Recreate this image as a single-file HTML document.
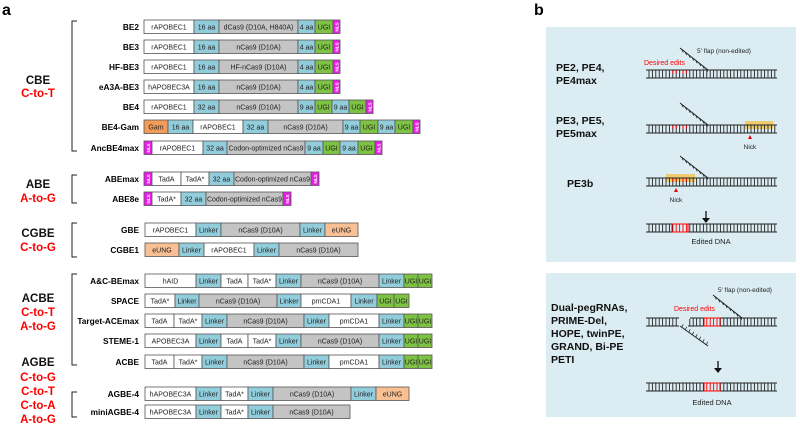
<!DOCTYPE html>
<html><head><meta charset="utf-8"><style>
body{margin:0;background:#fff;width:800px;height:432px;overflow:hidden}
svg{display:block;font-family:"Liberation Sans",Arial,sans-serif}
</style></head><body>
<svg id="s" width="800" height="432" viewBox="0 0 800 432" xmlns="http://www.w3.org/2000/svg">
<text x="2" y="15" font-size="16" font-weight="bold">a</text>
<text x="534" y="15" font-size="16" font-weight="bold">b</text>
<rect x="546" y="27" width="250" height="235" fill="#dbedf3"/>
<rect x="546" y="273" width="250" height="144" fill="#dbedf3"/>
<g id="g"></g>
</svg>
<script>
const g=document.getElementById('g');let h='';
const C={w:'#ffffff',b:'#92cddc',g:'#c4c4c4',u:'#7dc242',n:'#ec1cec',o:'#f39c5a',e:'#f8c094'};
function row(name,y,x0,segs){
 h+=`<text x="139" y="${y+10}" font-size="8.3" font-weight="bold" text-anchor="end">${name}</text>`;
 let x=x0;
 for(const [e,t,l] of segs){
  h+=`<rect x="${x}" y="${y}" width="${e-x}" height="13.5" fill="${C[t]}" stroke="#555" stroke-width="0.8"/>`;
  if(t==='n'){h+=`<text transform="translate(${(x+e)/2+2},${y+7}) rotate(-90)" font-size="4.5" fill="#fff" text-anchor="middle" font-weight="bold">NLS</text>`;}
  else h+=`<text x="${(x+e)/2}" y="${y+9.5}" font-size="7" text-anchor="middle" fill="#222">${l}</text>`;
  x=e;
 }
}
row('BE2',20,144,[[194,'w','rAPOBEC1'],[219,'b','16 aa'],[298,'g','dCas9 (D10A, H840A)'],[315,'b','4 aa'],[333,'u','UGI'],[340,'n']]);
row('BE3',40,144,[[194,'w','rAPOBEC1'],[219,'b','16 aa'],[298,'g','nCas9 (D10A)'],[315,'b','4 aa'],[333,'u','UGI'],[340,'n']]);
row('HF-BE3',60,144,[[194,'w','rAPOBEC1'],[219,'b','16 aa'],[298,'g','HF-nCas9 (D10A)'],[315,'b','4 aa'],[333,'u','UGI'],[340,'n']]);
row('eA3A-BE3',80,144,[[194,'w','hAPOBEC3A'],[219,'b','16 aa'],[298,'g','nCas9 (D10A)'],[315,'b','4 aa'],[333,'u','UGI'],[340,'n']]);
row('BE4',100,144,[[194,'w','rAPOBEC1'],[219,'b','32 aa'],[298,'g','nCas9 (D10A)'],[315,'b','9 aa'],[332,'u','UGI'],[349,'b','9 aa'],[366,'u','UGI'],[373,'n']]);
row('BE4-Gam',120,144,[[168,'o','Gam'],[193,'b','16 aa'],[243,'w','rAPOBEC1'],[268,'b','32 aa'],[343,'g','nCas9 (D10A)'],[360,'b','9 aa'],[378,'u','UGI'],[395,'b','9 aa'],[413,'u','UGI'],[420,'n']]);
row('AncBE4max',141,144,[[152,'n'],[203,'w','rAPOBEC1'],[227,'b','32 aa'],[305,'g','Codon-optimized nCas9'],[323,'b','9 aa'],[340,'u','UGI'],[358,'b','9 aa'],[375,'u','UGI'],[382,'n']]);
row('ABEmax',172,144,[[152,'n'],[181,'w','TadA'],[209,'w','TadA*'],[234,'b','32 aa'],[311,'g','Codon-optimized nCas9'],[319,'n']]);
row('ABE8e',192,144,[[152,'n'],[181,'w','TadA*'],[206,'b','32 aa'],[283,'g','Codon-optimized nCas9'],[291,'n']]);
row('GBE',223,145,[[196,'w','rAPOBEC1'],[221,'b','Linker'],[300,'g','nCas9 (D10A)'],[325,'b','Linker'],[358,'e','eUNG']]);
row('CGBE1',243,145,[[179,'e','eUNG'],[204,'b','Linker'],[254,'w','rAPOBEC1'],[279,'b','Linker'],[358,'g','nCas9 (D10A)']]);
row('A&amp;C-BEmax',274,145,[[196,'w','hAID'],[221,'b','Linker'],[248,'w','TadA'],[276,'w','TadA*'],[301,'b','Linker'],[379,'g','nCas9 (D10A)'],[404,'b','Linker'],[418,'u','UGI'],[432,'u','UGI']]);
row('SPACE',294,145,[[175,'w','TadA*'],[199,'b','Linker'],[277,'g','nCas9 (D10A)'],[301,'b','Linker'],[351,'w','pmCDA1'],[377,'b','Linker'],[394,'u','UGI'],[409,'u','UGI']]);
row('Target-ACEmax',314,145,[[174,'w','TadA'],[202,'w','TadA*'],[227,'b','Linker'],[304,'g','nCas9 (D10A)'],[329,'b','Linker'],[379,'w','pmCDA1'],[404,'b','Linker'],[418,'u','UGI'],[432,'u','UGI']]);
row('STEME-1',334,145,[[196,'w','APOBEC3A'],[221,'b','Linker'],[248,'w','TadA'],[276,'w','TadA*'],[301,'b','Linker'],[379,'g','nCas9 (D10A)'],[404,'b','Linker'],[418,'u','UGI'],[432,'u','UGI']]);
row('ACBE',355,145,[[174,'w','TadA'],[202,'w','TadA*'],[227,'b','Linker'],[304,'g','nCas9 (D10A)'],[329,'b','Linker'],[379,'w','pmCDA1'],[404,'b','Linker'],[418,'u','UGI'],[432,'u','UGI']]);
row('AGBE-4',387,145,[[196,'w','hAPOBEC3A'],[221,'b','Linker'],[248,'w','TadA*'],[273,'b','Linker'],[351,'g','nCas9 (D10A)'],[376,'b','Linker'],[409,'e','eUNG']]);
row('miniAGBE-4',405,145,[[196,'w','hAPOBEC3A'],[221,'b','Linker'],[248,'w','TadA*'],[273,'b','Linker'],[350,'g','nCas9 (D10A)']]);
// brackets
for(const [a,b] of [[21,151],[175,203],[223,257],[274,365],[392,417]]){
 h+=`<path d="M77 ${a}H72V${b}H77" fill="none" stroke="#222" stroke-width="1"/>`;
}
function lab(t,y,red){h+=`<text x="38" y="${y}" font-size="11.5" font-weight="bold" text-anchor="middle" fill="${red?'#ff0000':'#111'}">${t}</text>`;}
lab('CBE',84);lab('C-to-T',97,1);lab('ABE',188);lab('A-to-G',202,1);lab('CGBE',237);lab('C-to-G',251,1);
lab('ACBE',302);lab('C-to-T',316,1);lab('A-to-G',330,1);
lab('AGBE',366);lab('C-to-G',381,1);lab('C-to-T',395,1);lab('C-to-A',409,1);lab('A-to-G',423,1);
// right panel
function bl(t,x,y){h+=`<text x="${x}" y="${y}" font-size="10.5" font-weight="bold" fill="#111">${t}</text>`;}
bl('PE2, PE4,',556,71);bl('PE4max',556,84);bl('PE3, PE5,',556,124);bl('PE5max',556,137);bl('PE3b',567,187);
bl('Dual-pegRNAs,',551,311);bl('PRIME-Del,',551,324);bl('HOPE, twinPE,',551,337);bl('GRAND, Bi-PE',551,350);bl('PETI',551,363);
function dna(y,redA,redB,full,flapX){
 // rungs
 for(let x=649;x<776;x+=3.4){
  let red=x>=redA&&x<=redB;
  h+=`<line x1="${x}" y1="${y}" x2="${x}" y2="${y+8}" stroke="${red&&full?'#f00':'#222'}" stroke-width="0.9"/>`;
  if(red&&!full)h+=`<line x1="${x}" y1="${y}" x2="${x}" y2="${y+3.5}" stroke="#f00" stroke-width="1"/>`;
 }
 h+=`<line x1="646" y1="${y}" x2="777" y2="${y}" stroke="#222" stroke-width="1.1"/>`;
 h+=`<line x1="646" y1="${y+8}" x2="777" y2="${y+8}" stroke="#222" stroke-width="1.1"/>`;
 if(full&&redA)h+=`<rect x="${redA-1}" y="${y}" width="${redB-redA+2}" height="8" fill="none" stroke="#f00" stroke-width="1"/>`;
}
function flap(x1,y1,x2,y2,down){
 h+=`<line x1="${x1}" y1="${y1}" x2="${x2}" y2="${y2}" stroke="#222" stroke-width="1"/>`;
 const n=8;for(let i=0;i<n;i++){const t=(i+0.5)/n;const x=x1+(x2-x1)*t,y=y1+(y2-y1)*t;
 h+=`<line x1="${x}" y1="${y}" x2="${x+1.5}" y2="${y+(down?-3:3)}" stroke="#222" stroke-width="0.8"/>`;}
}
function txt(t,x,y,s,c,anc){h+=`<text x="${x}" y="${y}" font-size="${s}" fill="${c||'#222'}" ${anc?'text-anchor="middle"':''}>${t}</text>`;}
dna(70,672,688,0);flap(680,48,708,70);txt("5′ flap (non-edited)",697,53,6.5);txt("Desired edits",644,65,7,'#f00');
h+=`<rect x="745" y="121" width="28" height="8" fill="#f5c042" opacity="0.75"/>`;
dna(125,672,688,0);flap(680,103,708,125);h+=`<path d="M748 139l2-4 2 4z" fill="#e00"/>`;txt('Nick',750,149,6.5,0,1);
h+=`<rect x="666" y="174" width="29" height="8" fill="#f5c042" opacity="0.75"/>`;
dna(178,672,688,0);flap(680,156,708,178);h+=`<path d="M674 192l2-4 2 4z" fill="#e00"/>`;txt('Nick',676,202,6.5,0,1);
h+=`<line x1="706" y1="211" x2="706" y2="219" stroke="#111" stroke-width="1.3"/><path d="M702 218h8l-4 5z" fill="#111"/>`;
dna(224,673,687,1);txt('Edited DNA',711,244,7.5,0,1);
// box2
dna(318,705,719,1);
h+=`<rect x="679" y="317" width="9" height="10" fill="#dbedf3"/>`;
h+=`<line x1="679" y1="318" x2="690" y2="318" stroke="#dbedf3" stroke-width="2"/>`;
flap(713,295,742,318);flap(680,326,708,346,1);txt("5′ flap (non-edited)",718,292,6.5);txt("Desired edits",674,311,7,'#f00');
h+=`<line x1="718" y1="361" x2="718" y2="369" stroke="#111" stroke-width="1.3"/><path d="M714 368h8l-4 5z" fill="#111"/>`;
dna(383,705,719,1);txt('Edited DNA',712,405,7.5,0,1);
g.innerHTML=h;
</script>
</body></html>
